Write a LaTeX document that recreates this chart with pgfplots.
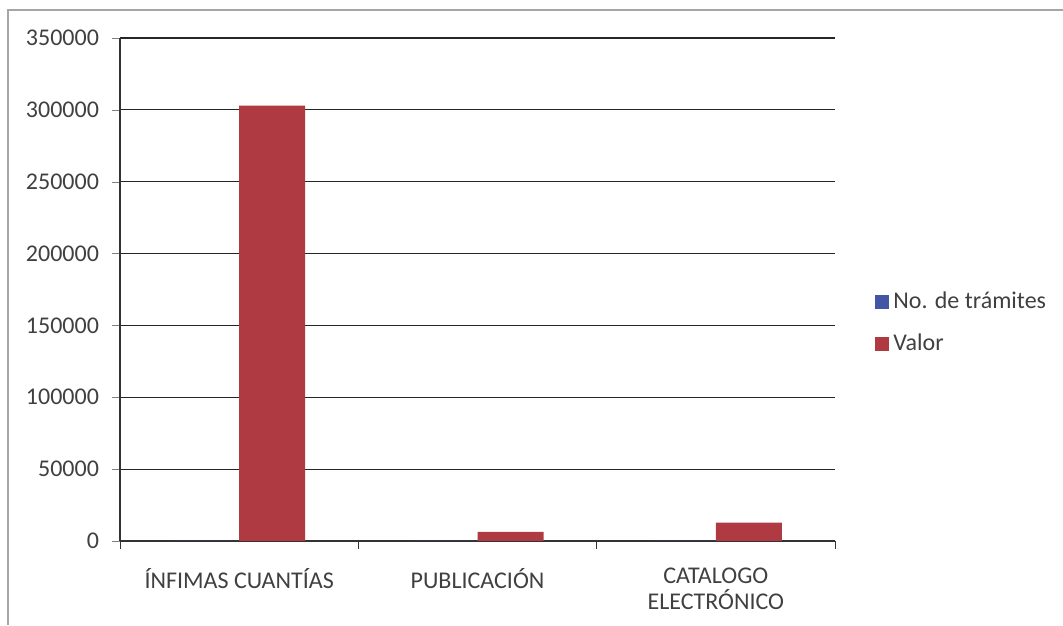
\documentclass[border=0pt]{standalone}
\usepackage{fontspec}
\setmainfont{Carlito}
\usepackage{pgfplots}
\pgfplotsset{compat=1.18}

\definecolor{tramblue}{RGB}{66,86,165}
\definecolor{valred}{RGB}{176,58,66}
\definecolor{labgray}{RGB}{64,64,64}

\begin{document}
\begin{tikzpicture}[x=1pt,y=1pt]
  % page area: 1px = 0.5pt, axis box corner at image pixel (120,541)
  \useasboundingbox (-60,-42) rectangle (471.5,270.5);
  \draw[gray!70, line width=1pt] (-56,-42) -- (-56,265.5) -- (471.5,265.5);

  \begin{axis}[
      at={(0,0)}, anchor=south west,
      scale only axis,
      width=357.5pt, height=251.5pt,
      ybar=0pt, bar width=0.277,
      xmin=-0.5, xmax=2.5,
      ymin=0, ymax=350000,
      scaled y ticks=false,
      ytick={0,50000,100000,150000,200000,250000,300000,350000},
      yticklabels={0,50000,100000,150000,200000,250000,300000,350000},
      xtick={0,1,2},
      xticklabels={ÍNFIMAS CUANTÍAS, PUBLICACIÓN, {CATALOGO\\ELECTRÓNICO}},
      major x tick style={draw=none},
      minor xtick={-0.5,0.5,1.5,2.5},
      minor x tick style={black!80},
      minor tick length=4pt,
      tick align=outside,
      major tick length=4pt,
      axis x line*=bottom, axis y line*=left,
      axis line style={black!80, line width=0.6pt},
      ymajorgrids, grid style={black!85, line width=0.6pt},
      tick label style={font=\fontsize{12}{13}\selectfont, text=labgray},
      xticklabel style={align=center, yshift=-6pt},
      yticklabel style={xshift=-3pt},
      legend style={at={(1.056,0.434)}, anchor=west, draw=none, fill=none,
        inner xsep=0pt, nodes={inner xsep=2pt},
        font=\fontsize{12}{14}\selectfont, text=labgray, row sep=7pt},
      legend cell align=left,
      legend image code/.code={\fill[#1] (0pt,-3.5pt) rectangle (7pt,3.5pt);},
      clip=false,
    ]
    \addplot[fill=tramblue, draw=none] coordinates {(0,150) (1,3) (2,5)};
    \addlegendentry{No. de trámites}
    \addplot[fill=valred, draw=none] coordinates {(0,303000) (1,6300) (2,12800)};
    \addlegendentry{Valor}
  \end{axis}
\end{tikzpicture}
\end{document}
